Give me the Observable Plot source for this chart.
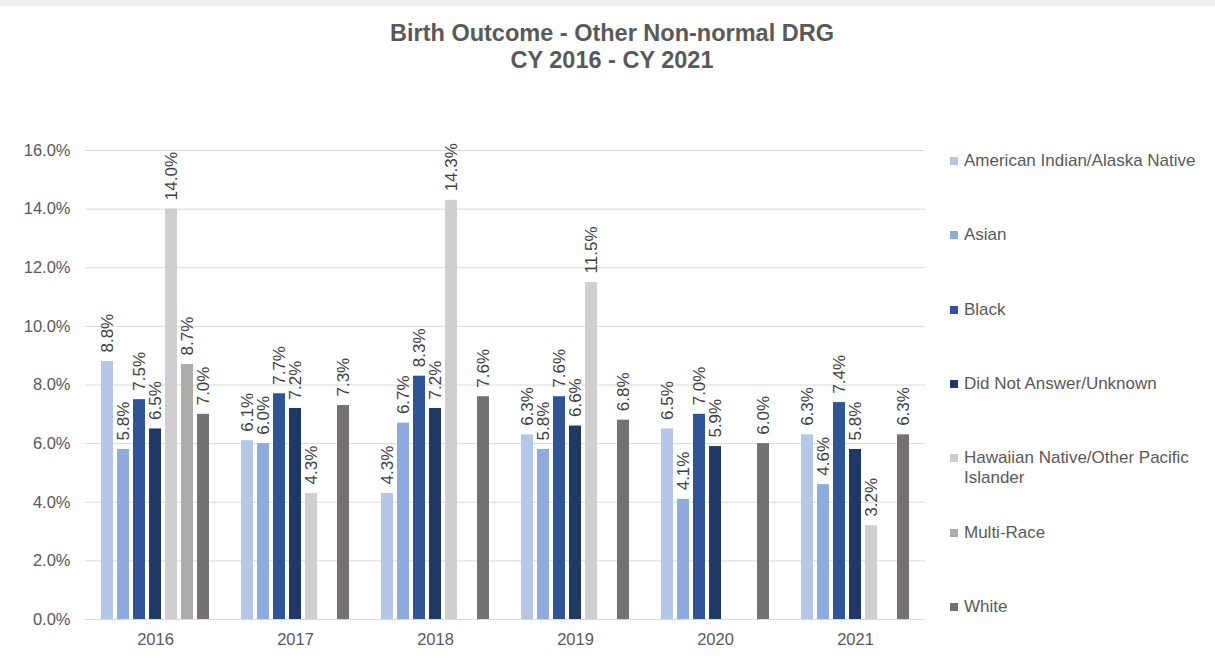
<!DOCTYPE html>
<html>
<head>
<meta charset="utf-8">
<script src="https://cdn.jsdelivr.net/npm/d3@7"></script>
<script src="https://cdn.jsdelivr.net/npm/@observablehq/plot@0.6"></script>
<style>
  html, body { margin: 0; padding: 0; background: #ffffff; }
  #root { position: relative; width: 1215px; height: 661px; overflow: hidden; font-family: "Liberation Sans", Arial, sans-serif; }
  #strip { position: absolute; left: 0; top: 0; width: 1215px; height: 6px; background: #f0f0f0; }
  #title { position: absolute; left: 0; top: 20px; width: 1224px; text-align: center; font-weight: bold; font-size: 23.5px; line-height: 27px; color: #595959; }
  #chart { position: absolute; left: 0; top: 100px; }
  #legend { position: absolute; left: 950px; top: 0; }
  .item { position: absolute; left: 0; width: 262px; display: flex; align-items: flex-start; font-size: 17px; line-height: 20px; color: #595959; }
  .sw { width: 8px; height: 8px; margin-top: 6px; margin-right: 6px; flex: none; }
  .lbl { width: 245px; }
</style>
</head>
<body>
<div id="root">
  <div id="strip"></div>
  <div id="title"></div>
  <div id="chart"></div>
  <div id="legend"></div>
</div>
<script>
// ---- data ----
const titleLines = ["Birth Outcome - Other Non-normal DRG", "CY 2016 - CY 2021"];
const years = ["2016", "2017", "2018", "2019", "2020", "2021"];
const seriesNames = [
  "American Indian/Alaska Native",
  "Asian",
  "Black",
  "Did Not Answer/Unknown",
  "Hawaiian Native/Other Pacific Islander",
  "Multi-Race",
  "White"
];
const seriesColors = ["#b4c7e7", "#8faadc", "#2f5597", "#203864", "#d0cece", "#afabab", "#767171"];
const americanIndian = [8.8, 6.1, 4.3, 6.3, 6.5, 6.3];
const asian          = [5.8, 6.0, 6.7, 5.8, 4.1, 4.6];
const black          = [7.5, 7.7, 8.3, 7.6, 7.0, 7.4];
const unknown        = [6.5, 7.2, 7.2, 6.6, 5.9, 5.8];
const hawaiian       = [14.0, 4.3, 14.3, 11.5, null, 3.2];
const multiRace      = [8.7, null, null, null, null, null];
const white          = [7.0, 7.3, 7.6, 6.8, 6.0, 6.3];
const yTicks = [0, 2, 4, 6, 8, 10, 12, 14, 16];

// ---- build table ----
const seriesValues = [americanIndian, asian, black, unknown, hawaiian, multiRace, white];
const data = [];
years.forEach((yr, i) => {
  seriesNames.forEach((s, j) => {
    const v = seriesValues[j][i];
    if (v != null) data.push({year: yr, series: s, value: v});
  });
});

// ---- title ----
document.getElementById("title").innerHTML = titleLines.map(t => `<div>${t}</div>`).join("");

// ---- chart ----
const pct = d => d.toFixed(1) + "%";
const chart = Plot.plot({
  width: 940,
  height: 561,
  marginLeft: 85,
  marginRight: 15,
  marginTop: 50,
  marginBottom: 42,
  style: {fontFamily: "'Liberation Sans', Arial, sans-serif", fontSize: "16.5px", color: "#595959", background: "transparent"},
  fx: {domain: years, padding: 0, label: null},
  x: {domain: seriesNames, paddingInner: 0.22, paddingOuter: 0.8, axis: null},
  y: {domain: [0, 16], label: null},
  color: {domain: seriesNames, range: seriesColors},
  marks: [
    Plot.gridY(yTicks, {stroke: "#d9d9d9", strokeOpacity: 1, strokeWidth: 1}),
    Plot.axisY(yTicks, {tickSize: 0, tickPadding: 15, tickFormat: pct, label: null, fontSize: 16.5}),
    Plot.axisFx({anchor: "bottom", tickSize: 0, tickPadding: 14, label: null, fontSize: 16.5}),
    Plot.barY(data, {fx: "year", x: "series", y: "value", fill: "series"}),
    Plot.ruleY([0], {stroke: "#d9d9d9", strokeWidth: 1}),
    Plot.text(data, {fx: "year", x: "series", y: "value", text: d => pct(d.value), rotate: -90, textAnchor: "start", dy: -9, fill: "#404040", fontSize: 17})
  ]
});
document.getElementById("chart").appendChild(chart);

// ---- legend ----
const legend = document.getElementById("legend");
seriesNames.forEach((s, i) => {
  const item = document.createElement("div");
  item.className = "item";
  item.style.top = (161 + i * 74.33 - 10) + "px";
  item.innerHTML = `<span class="sw" style="background:${seriesColors[i]}"></span><span class="lbl">${s}</span>`;
  legend.appendChild(item);
});
</script>
</body>
</html>
